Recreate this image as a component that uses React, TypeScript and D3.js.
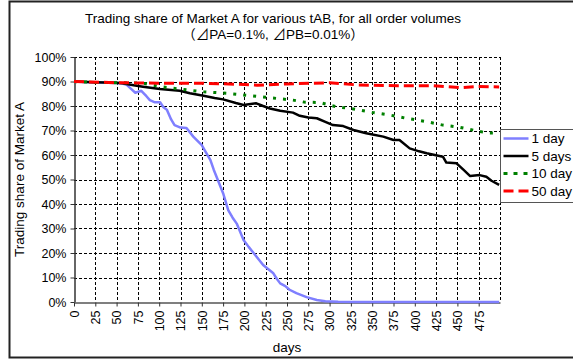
import React, { useEffect, useRef } from "react";
import * as d3 from "d3";

// days on the x axis
const xTicks = d3.range(0, 500, 25);
const yTicks = [0, 0.1, 0.2, 0.3, 0.4, 0.5, 0.6, 0.7, 0.8, 0.9, 1.0];

// series: [day, share %]
const oneDay = [
  [0, 90], [10, 89.8], [25, 89.6], [40, 89.5], [50, 89.4], [57, 89.2], [62, 88.6], [67, 87], [72, 85.4],
  [79, 86.2], [85, 84], [89, 82.4], [95, 81.5], [101, 81.5], [105, 79.5], [109, 78.5], [114, 74.5],
  [118, 72.2], [125, 71.2], [132, 71], [140, 67.5], [150, 64], [155, 61], [160, 58], [164, 54],
  [168, 50.5], [175, 44.4], [181, 37.5], [186, 34.5], [191, 32], [199, 25.3], [205, 22.5], [211, 19.9],
  [222, 15.1], [234, 11.7], [238, 9.5], [242, 7.6], [248, 6.5], [253, 5], [261, 3.6], [273, 2],
  [285, 0.8], [295, 0.3], [310, 0.1], [330, 0], [499, 0],
];
const fiveDays = [
  [0, 90], [25, 89.7], [50, 89.5], [57, 89.3], [70, 88.5], [81, 87.9], [101, 86.9], [124, 86.2],
  [136, 85.2], [152, 84.2], [165, 83.3], [175, 82.7], [190, 81.2], [199, 80.4], [214, 81.1], [222, 80],
  [230, 79], [242, 78.1], [257, 77.3], [265, 76], [275, 75.3], [285, 75], [295, 73.5], [304, 72.2],
  [316, 71.8], [328, 70.2], [343, 68.9], [363, 67.5], [375, 66.1], [382, 66.1], [394, 62.7], [405, 61.5],
  [414, 60.7], [433, 59.3], [437, 56.9], [449, 56.6], [457, 54], [465, 51.4], [476, 51.8], [484, 51.1],
  [490, 49.5], [499, 47.8],
];
const tenDays = [
  [0, 90], [25, 89.6], [50, 89.5], [81, 89.3], [101, 87.9], [124, 86.9], [152, 85.8], [179, 85.2],
  [218, 83.8], [257, 82.4], [270, 81.6], [289, 81.4], [308, 79.7], [328, 78.8], [351, 77.3], [371, 76.3],
  [390, 75], [414, 73.6], [433, 72.2], [453, 71.3], [472, 69.9], [485, 69], [499, 68.9],
];
const fiftyDays = [
  [0, 90], [50, 89.5], [100, 89.3], [150, 89.3], [200, 88.8], [215, 88.5], [250, 89], [300, 89.5],
  [333, 88.6], [380, 88.3], [420, 88.3], [453, 87.5], [475, 88], [499, 87.8],
];

const series = [
  { name: "1 day", data: oneDay, color: "#7f7fff", dash: null, width: 2.5 },
  { name: "5 days", data: fiveDays, color: "#000000", dash: null, width: 2.5 },
  { name: "10 day", data: tenDays, color: "#008000", dash: "3,7", width: 3 },
  { name: "50 day", data: fiftyDays, color: "#ff0000", dash: "10,5", width: 3 },
];

const App = () => {
  const svgRef = useRef<SVGSVGElement>(null);

  useEffect(() => {
    const W = 573;
    const H = 359;
    const margin = { top: 57, right: 73, bottom: 57, left: 74 };

    d3.select(svgRef.current).selectAll("*").remove();
    const svg = d3.select(svgRef.current).attr("width", W).attr("height", H);
    const font = "'Liberation Sans', Arial, 'Noto Sans CJK JP', sans-serif";

    svg.append("rect").attr("x", 0).attr("y", 0).attr("width", W).attr("height", H).attr("fill", "#fff");
    // outer chart frame (right side is cropped)
    svg
      .append("rect")
      .attr("x", 9.5)
      .attr("y", 1.5)
      .attr("width", W + 10)
      .attr("height", H - 3)
      .attr("fill", "none")
      .attr("stroke", "#222")
      .attr("stroke-width", 2);

    const x = d3.scaleLinear().domain([0, 500]).range([margin.left, W - margin.right]);
    const y = d3.scaleLinear().domain([0, 1]).range([H - margin.bottom, margin.top]);

    // grid
    const grid = svg.append("g").attr("stroke", "#000").attr("stroke-width", 1).attr("stroke-dasharray", "3,2");
    grid
      .selectAll("line.h")
      .data(yTicks.slice(1))
      .enter()
      .append("line")
      .attr("x1", x(0))
      .attr("x2", x(500))
      .attr("y1", (d) => Math.round(y(d)) + 0.5)
      .attr("y2", (d) => Math.round(y(d)) + 0.5);
    grid
      .selectAll("line.v")
      .data(d3.range(25, 525, 25))
      .enter()
      .append("line")
      .attr("y1", y(1))
      .attr("y2", y(0))
      .attr("x1", (d) => Math.round(x(d)) + 0.5)
      .attr("x2", (d) => Math.round(x(d)) + 0.5);

    // axes
    const yAxis = svg
      .append("g")
      .attr("transform", `translate(${Math.round(x(0)) + 0.5},0)`)
      .call(d3.axisLeft(y).tickValues(yTicks).tickFormat(d3.format(".0%")).tickSize(4).tickSizeOuter(0));
    yAxis.select(".domain").attr("stroke", "#333").attr("stroke-width", 1.5);
    yAxis.selectAll("line").attr("stroke", "#333");
    yAxis.selectAll("text").attr("font-family", font).attr("font-size", 12.5).attr("fill", "#000").attr("x", -8);

    const xAxis = svg
      .append("g")
      .attr("transform", `translate(0,${Math.round(y(0)) + 0.5})`)
      .call(d3.axisBottom(x).tickValues(xTicks).tickFormat(d3.format("d")).tickSize(4).tickSizeOuter(0));
    xAxis.select(".domain").attr("stroke", "#555").attr("stroke-width", 1.5);
    xAxis.selectAll("line").attr("stroke", "#333");
    xAxis
      .selectAll("text")
      .attr("font-family", font)
      .attr("font-size", 12.5)
      .attr("fill", "#000")
      .attr("transform", "rotate(-90)")
      .attr("text-anchor", "end")
      .attr("x", -8)
      .attr("y", 0)
      .attr("dx", 0)
      .attr("dy", "0.35em");

    // lines
    const line = d3
      .line<number[]>()
      .x((d) => x(d[0]))
      .y((d) => y(d[1] / 100));
    series.forEach((s) => {
      svg
        .append("path")
        .datum(s.data)
        .attr("d", line)
        .attr("fill", "none")
        .attr("stroke", s.color)
        .attr("stroke-width", s.width)
        .attr("stroke-linejoin", "round")
        .attr("stroke-dasharray", s.dash);
    });

    // titles
    const title = svg.append("text").attr("font-family", font).attr("font-size", 13.5).attr("text-anchor", "middle");
    title.append("tspan").attr("x", 273).attr("y", 23).text("Trading share of Market A for various tAB, for all order volumes");
    title.append("tspan").attr("x", 273).attr("y", 39).text("（⊿PA=0.1%, ⊿PB=0.01%）");

    svg
      .append("text")
      .attr("transform", `translate(24,${(y(0) + y(1)) / 2}) rotate(-90)`)
      .attr("text-anchor", "middle")
      .attr("font-family", font)
      .attr("font-size", 13.5)
      .text("Trading share of Market A");

    svg
      .append("text")
      .attr("x", (x(0) + x(500)) / 2)
      .attr("y", 352)
      .attr("text-anchor", "middle")
      .attr("font-family", font)
      .attr("font-size", 13.5)
      .text("days");

    // legend
    const lg = svg.append("g").attr("transform", "translate(500.5,129.5)");
    lg.append("rect").attr("width", 90).attr("height", 73).attr("fill", "#fff").attr("stroke", "#555").attr("stroke-width", 1);
    series.forEach((s, i) => {
      const ly = 9 + i * 17.5;
      lg.append("line")
        .attr("x1", 3)
        .attr("x2", 28)
        .attr("y1", ly)
        .attr("y2", ly)
        .attr("stroke", s.color)
        .attr("stroke-width", s.width)
        .attr("stroke-dasharray", s.dash === "3,7" ? "4,6" : s.dash);
      lg.append("text")
        .attr("x", 31)
        .attr("y", ly)
        .attr("dy", "0.35em")
        .attr("font-family", font)
        .attr("font-size", 13.5)
        .text(s.name);
    });
  }, []);

  return (
    <div style={{ position: "absolute", left: 0, top: 0 }}>
      <svg ref={svgRef} style={{ display: "block" }}></svg>
    </div>
  );
};

export default App;
